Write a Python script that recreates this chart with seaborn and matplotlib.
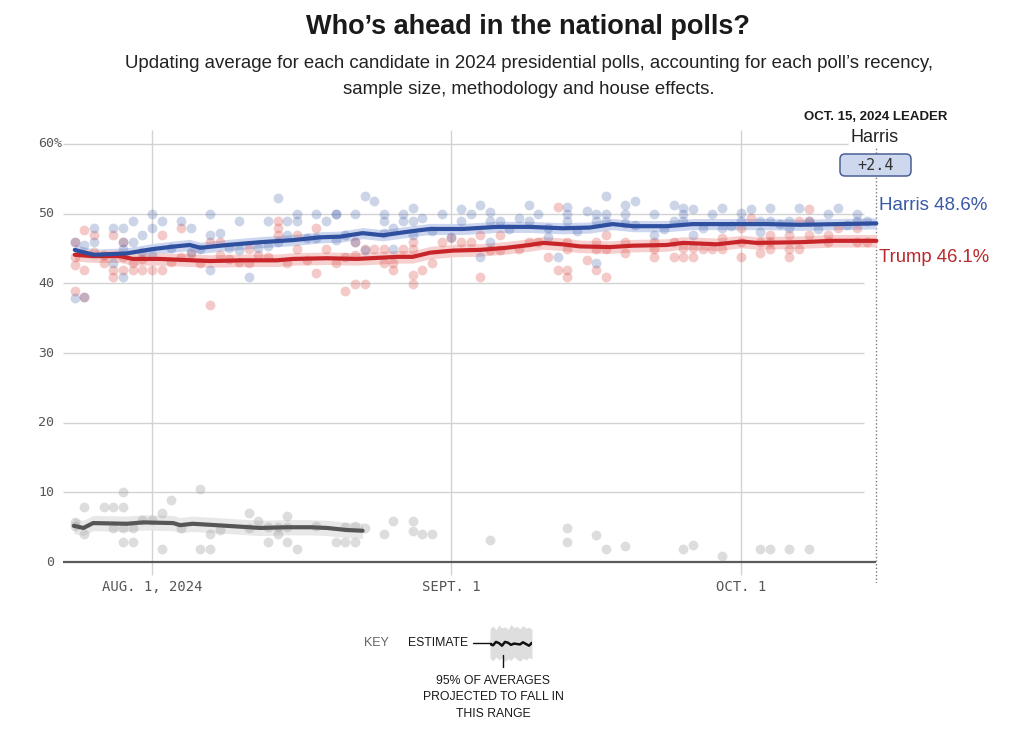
import numpy as np
import pandas as pd
import matplotlib
matplotlib.use("Agg")
import matplotlib.pyplot as plt
import seaborn as sns
from matplotlib import font_manager
from matplotlib.patches import FancyBboxPatch
from matplotlib.lines import Line2D
import matplotlib.transforms as mtransforms

# ---------------- DATA (days relative to Aug. 1, 2024) ----------------
HARRIS_AVG_DAY = [-8, -7.5, -6, -4.3, -2.6, 0, 2.4, 3.9, 5, 7.8, 11.2, 14.6, 17.4, 19.5, 21.8,
                  23.9, 27, 28.8, 32.2, 35.7, 39.1, 42.5, 45.3, 47.7, 49.8, 53.3, 56, 60.1, 63.7, 67.1, 75]
HARRIS_AVG = [44.8, 44.6, 44.1, 44.2, 44.3, 44.9, 45.3, 45.5, 45.1, 45.5, 45.9, 46.2, 46.6, 46.7, 47.2,
              46.9, 47.5, 47.8, 47.8, 48.1, 48.1, 47.9, 48.0, 48.5, 48.2, 48.2, 48.5, 48.5, 48.5, 48.4, 48.6]

TRUMP_AVG_DAY = [-8, -6.1, -3.3, -2, 0.8, 4.2, 6, 9.4, 12.9, 14.6, 18.1, 21.2, 25.4, 27, 28.8, 31.2,
                 34, 36.7, 39.1, 40.5, 42.5, 44.3, 47.4, 49.8, 53.3, 55, 58.5, 61.1, 62.6, 67.1, 70.5, 75]
TRUMP_AVG = [44.1, 43.9, 43.9, 43.5, 43.5, 43.3, 43.2, 43.3, 43.3, 43.5, 43.6, 43.5, 43.8, 43.8, 44.4, 44.7,
             44.8, 45.1, 45.5, 45.8, 45.6, 45.3, 45.2, 45.4, 45.5, 45.8, 45.6, 46.0, 45.8, 45.9, 46.1, 46.1]

OTHER_AVG_DAY = [-8.1, -7.1, -6.1, -2.6, -0.9, 2.2, 2.9, 4.2, 7.8, 11.2, 14, 16.4, 18.1, 20.2, 21.8]
OTHER_AVG = [5.2, 4.9, 5.6, 5.5, 5.7, 5.6, 5.3, 5.5, 5.2, 4.9, 5.0, 5.0, 4.9, 4.6, 4.5]

HARRIS_BAND = 0.8   # half width of the 95% range
TRUMP_BAND = 0.9
OTHER_BAND = 1.1

HARRIS_POLL_DAY = [-8, -8, -7, -6, -4, -3, -2, -1, 0, 0, 1, 3, 4, 6, 6, 7, 9, 12, 13, 14, 15, 15, 17, 18, 19,
                   -4, -3, 6, 10, 14, 11, -2, -7, -6, -3, -3, -1, 0, 2, 4, 5, 8, 9, 12, 13, 16, 17, 19,
                   19, 20, 21, 21, 22, 22, 23, 24, 24, 25, 25, 26, 26, 27, 27, 28, 30, 31, 32, 32, 33, 34,
                   35, 35, 36, 35, 34, 38, 39, 39, 40, 41, 43, 43, 43, 45, 46, 46, 47, 47, 42, 46, 29, 37,
                   44, 41, 24, 27,
                   47, 49, 49, 50, 52, 54, 54, 55, 55, 55, 56, 56, 58, 59, 59, 61, 61, 62, 63, 63, 64, 64,
                   66, 66, 67, 68, 70, 71, 73, 73, 74, 49, 52, 50, 53, 57, 60, 65, 69, 72]
HARRIS_POLL = [46.0, 37.9, 38.0, 47.9, 47.9, 47.9, 48.9, 46.9, 50.0, 47.9, 48.9, 48.9, 47.9, 50.0, 46.9, 47.2,
               48.9, 48.9, 52.3, 48.9, 50.0, 48.9, 50.0, 48.9, 50.0,
               42.9, 40.9, 41.9, 40.9, 46.9, 45.1, 45.9, 45.5, 45.9, 45.9, 44.9, 44.5, 44.0, 45.0, 44.5,
               44.9, 45.0, 44.8, 45.3, 46.0, 46.5, 46.5, 46.2,
               50.0, 46.9, 50.0, 45.9, 52.5, 44.8, 51.8, 50.0, 48.9, 47.9, 44.9, 50.0, 48.9, 50.8, 48.9,
               49.4, 50.0, 46.6, 50.7, 48.9, 50.0, 51.2, 50.2, 48.9, 48.9, 45.9, 43.8, 49.4, 51.2, 48.9,
               50.0, 46.6, 51.0, 50.0, 48.9, 50.4, 50.0, 48.9, 52.5, 48.9, 43.8, 42.9, 47.5, 47.8, 47.5,
               48.0, 47.2, 47.0,
               50.0, 51.2, 50.0, 51.8, 50.0, 51.2, 48.9, 50.8, 50.0, 48.9, 50.7, 47.0, 50.0, 50.8, 47.9,
               50.1, 48.9, 50.7, 48.9, 47.4, 50.8, 48.9, 48.9, 47.9, 50.8, 48.9, 50.0, 50.8, 50.0, 48.9,
               48.9, 48.7, 46.9, 48.3, 47.8, 48.0, 48.2, 48.5, 47.8, 48.3]

TRUMP_POLL_DAY = [-8, -8, -8, -7, -7, -7, -6, -5, -4, -4, -4, -3, -3, -3, -2, -2, -1, 0, 1, 1, 3, 3, 5, 6,
                  6, 7, 7, 10, 10, 12, 13, 13, 13, 14, 15, 15, 17, 17, 18, 19, -6, -5, -1, 2, 4, 8, 9, 11,
                  16, -8,
                  20, 20, 21, 21, 21, 22, 22, 23, 24, 24, 25, 25, 26, 27, 27, 27, 27, 28, 29, 30, 31, 32,
                  33, 34, 34, 35, 36, 36, 38, 39, 40, 41, 42, 42, 43, 43, 43, 43, 45, 46, 46, 46, 47, 47,
                  47, 49, 49, 52, 52, 52, 54, 54, 55, 55, 56, 56, 57, 58, 59, 59, 61, 61, 61, 62, 63, 63,
                  64, 64, 64, 66, 66, 66, 67, 67, 68, 68, 68, 70, 70, 71, 73, 73, 74]
TRUMP_POLL = [43.8, 42.6, 38.9, 47.6, 41.9, 38.0, 46.9, 42.9, 46.9, 41.9, 40.9, 45.9, 43.8, 41.9, 42.9, 41.9,
              41.9, 41.9, 46.9, 41.9, 47.9, 43.8, 42.9, 45.9, 36.9, 45.9, 44.1, 44.9, 42.9, 43.8, 48.9, 47.9,
              46.9, 42.9, 46.9, 44.9, 47.9, 41.5, 44.9, 42.9, 44.5, 44.0, 43.5, 43.0, 44.2, 43.5, 43.0, 44.0,
              43.3, 46.0,
              43.8, 38.9, 45.9, 44.1, 39.9, 39.9, 44.9, 44.9, 44.9, 42.9, 42.9, 41.9, 44.9, 45.9, 44.9, 41.2,
              39.9, 41.9, 42.9, 45.9, 46.5, 45.9, 45.9, 46.9, 40.9, 44.8, 46.9, 44.8, 44.9, 45.9, 45.9, 43.8,
              51.0, 41.9, 45.9, 44.9, 41.9, 40.9, 43.3, 45.9, 44.9, 41.9, 46.9, 40.9, 44.9, 45.9, 44.4, 45.9,
              44.9, 43.8, 45.9, 43.8, 45.0, 43.8, 45.0, 43.8, 44.9, 44.9, 46.5, 44.9, 47.9, 45.9, 43.8, 49.4,
              45.9, 44.4, 46.9, 45.9, 44.9, 46.9, 44.9, 43.8, 48.9, 44.9, 50.7, 48.9, 46.9, 46.9, 45.9, 47.9,
              47.9, 45.9, 45.9]

OTHER_POLL_DAY = [-8, -8, -7, -7, -5, -4, -4, -3, -3, -3, -3, -2, -2, -1, 0, 1, 1, 2, 3, 5, 5, 6, 6, 7,
                  10, 10, 11, 12, 12, 13, 13, 14, 14, 14, 15, 17, 19, 20, 20, 21, 21, 22, 24, 25, 27, 27,
                  28, 29, 35, 43, 43, 46, 47, 49, 55, 56, 59, 63, 64, 66, 68]
OTHER_POLL = [5.8, 5.2, 7.9, 4.1, 7.9, 7.9, 4.9, 10.1, 7.9, 4.9, 2.9, 4.9, 2.9, 6.0, 6.0, 7.0, 1.9, 8.9,
              4.9, 10.5, 1.9, 4.0, 1.9, 4.6, 7.0, 4.9, 5.9, 5.0, 2.9, 5.0, 4.0, 6.6, 5.0, 2.9, 1.9, 5.2,
              2.9, 5.0, 2.9, 5.2, 2.9, 4.9, 4.0, 5.9, 5.9, 4.5, 4.0, 4.0, 3.1, 4.9, 2.9, 3.9, 1.9, 2.3,
              1.9, 2.4, 0.9, 1.9, 1.9, 1.9, 1.9]

X_TICK_DAYS = [0, 31, 61]
X_TICK_LABELS = ["AUG. 1, 2024", "SEPT. 1", "OCT. 1"]
Y_TICKS = [0, 10, 20, 30, 40, 50, 60]
Y_TICK_LABELS = ["0", "10", "20", "30", "40", "50", "60"]
LEADER_DAY = 75
LEADER_DATE = "OCT. 15, 2024 LEADER"
LEADER = "Harris"
LEAD_MARGIN = "+2.4"
HARRIS_LABEL = "Harris 48.6%"
TRUMP_LABEL = "Trump 46.1%"

KEY_LINE = [5.0, 4.7, 5.5, 5.2, 4.6, 5.5, 5.3, 4.8, 5.1, 5.0, 4.9, 5.4, 5.0, 4.6, 5.3]
KEY_LO = [1.6, 1.0, 1.9, 1.2, 1.7, 0.8, 1.5, 1.1, 2.0, 1.3, 0.9, 1.6, 1.2, 1.8, 1.4]
KEY_HI = [8.7, 9.3, 8.4, 9.5, 8.8, 9.1, 8.5, 9.6, 8.9, 9.2, 8.6, 9.4, 8.8, 9.0, 8.5]

# ---------------- STYLE ----------------
sns.set_style("white")
names = {f.name for f in font_manager.fontManager.ttflist}
SANS = "Liberation Sans" if "Liberation Sans" in names else "DejaVu Sans"
NARROW = "Liberation Sans Narrow" if "Liberation Sans Narrow" in names else SANS
MONO = "DejaVu Sans Mono"
plt.rcParams["font.family"] = [SANS, "DejaVu Sans"]

W, H = 1012, 743
fig = plt.figure(figsize=(W / 100, H / 100), dpi=100)

def fx(px):
    return px / W

def fy(py):
    return 1 - py / H

ax = fig.add_axes([fx(63), fy(583), (886 - 63) / W, (583 - 130) / H])
XMIN, XMAX = -9.22, 76.0
ax.set_xlim(XMIN, XMAX)
ax.set_ylim(-3, 62)
for s in ax.spines.values():
    s.set_visible(False)
ax.set_xticks([])
ax.set_yticks([])

BLUE = "#2f4f9f"
RED = "#c8252a"
GRAY_LINE = "#565656"

# grid
for yv in Y_TICKS[1:]:
    xend = 72.1 if yv == 60 else 73.7
    ax.hlines(yv, XMIN, xend, color="#d2d2d2", lw=1, zorder=0.5)
ax.hlines(0, XMIN, LEADER_DAY, color="#5a5a5a", lw=1.6, zorder=0.6)
ax.vlines(X_TICK_DAYS, -1.9, 62, color="#d2d2d2", lw=1, zorder=0.5)
ax.vlines(LEADER_DAY, -3, 59.4, color="#7a7a7a", lw=1, linestyles=(0, (1, 1.6)), zorder=0.7)

# bands
ha = np.array(HARRIS_AVG); ta = np.array(TRUMP_AVG); oa = np.array(OTHER_AVG)
ax.fill_between(HARRIS_AVG_DAY, ha - HARRIS_BAND, ha + HARRIS_BAND, color="#c8d2ee", alpha=0.9, lw=0, zorder=1)
ax.fill_between(TRUMP_AVG_DAY, ta - TRUMP_BAND, ta + TRUMP_BAND, color="#f6cbc9", alpha=0.9, lw=0, zorder=1)
ax.fill_between(OTHER_AVG_DAY, oa - OTHER_BAND, oa + OTHER_BAND, color="#e6e6e6", alpha=0.9, lw=0, zorder=1)

# polls
sns.scatterplot(x=OTHER_POLL_DAY, y=OTHER_POLL, ax=ax, color="#9a9a9a", alpha=0.33, s=50,
                linewidth=0, zorder=2, legend=False)
sns.scatterplot(x=TRUMP_POLL_DAY, y=TRUMP_POLL, ax=ax, color="#d9433c", alpha=0.28, s=50,
                linewidth=0, zorder=2, legend=False)
sns.scatterplot(x=HARRIS_POLL_DAY, y=HARRIS_POLL, ax=ax, color="#3a5aa8", alpha=0.26, s=50,
                linewidth=0, zorder=2, legend=False)

# averages
sns.lineplot(x=OTHER_AVG_DAY, y=OTHER_AVG, ax=ax, color=GRAY_LINE, lw=3, zorder=3)
sns.lineplot(x=TRUMP_AVG_DAY, y=TRUMP_AVG, ax=ax, color=RED, lw=3, zorder=3)
sns.lineplot(x=HARRIS_AVG_DAY, y=HARRIS_AVG, ax=ax, color=BLUE, lw=3, zorder=3)
ax.set_xlabel("")
ax.set_ylabel("")
ax.set_xlim(XMIN, XMAX)
ax.set_ylim(-3, 62)

# y labels
ytr = mtransforms.blended_transform_factory(fig.transFigure, ax.transData)
for v, lab in zip(Y_TICKS, Y_TICK_LABELS):
    ax.text(fx(54), v, lab, transform=ytr, ha="right", va="center", fontsize=9.5,
            family=MONO, color="#555555")
ax.text(fx(54), 60, "%", transform=ytr, ha="left", va="center", fontsize=9.5,
        family=MONO, color="#555555")

# x labels
xtr = mtransforms.blended_transform_factory(ax.transData, fig.transFigure)
for d, lab in zip(X_TICK_DAYS, X_TICK_LABELS):
    ax.text(d, fy(587), lab, transform=xtr, ha="center", va="center", fontsize=10,
            family=MONO, color="#555555")

# titles
fig.text(fx(528), fy(27), "Who’s ahead in the national polls?", ha="center", va="center",
         fontsize=19.5, fontweight="bold", family=[NARROW, "DejaVu Sans"], color="#1a1a1a")
fig.text(fx(529), fy(64), "Updating average for each candidate in 2024 presidential polls, accounting for each poll’s recency,",
         ha="center", va="center", fontsize=13.4, color="#222222")
fig.text(fx(529), fy(89), "sample size, methodology and house effects.",
         ha="center", va="center", fontsize=13.4, color="#222222")

# leader annotation
fig.text(fx(876), fy(117), LEADER_DATE, ha="center", va="center", fontsize=9.5,
         fontweight="bold", color="#1a1a1a")
fig.text(fx(875), fy(138), LEADER, ha="center", va="center", fontsize=13, color="#222222")
box = FancyBboxPatch((8.40, (H - 176) / 100), 0.71, 0.22,
                     boxstyle="round,pad=0,rounding_size=0.05",
                     transform=fig.dpi_scale_trans, facecolor="#cdd7ee", edgecolor="#4a5f95",
                     lw=1.1, zorder=5)
fig.patches.append(box)
fig.text(fx(875.5), fy(165), LEAD_MARGIN, ha="center", va="center", fontsize=11,
         family=MONO, color="#333333", zorder=6)

fig.text(fx(879), fy(206), HARRIS_LABEL, ha="left", va="center", fontsize=13.5, color="#3a59a6")
fig.text(fx(879), fy(257), TRUMP_LABEL, ha="left", va="center", fontsize=13.3, color="#b8282a")

# key
fig.text(fx(364), fy(643), "KEY", ha="left", va="center", fontsize=9, color="#666666")
fig.text(fx(408), fy(643), "ESTIMATE", ha="left", va="center", fontsize=8.8, color="#1a1a1a")
fig.add_artist(Line2D([fx(473), fx(491)], [fy(643), fy(643)], color="#111111", lw=1))
fig.add_artist(Line2D([fx(503), fx(503)], [fy(655), fy(667)], color="#111111", lw=1))
kax = fig.add_axes([fx(490), fy(665), 42 / W, 42 / H])
kx = np.arange(len(KEY_LINE))
kax.fill_between(kx, KEY_LO, KEY_HI, color="#dedede", lw=0)
kax.plot(kx, KEY_LINE, color="#111111", lw=1.8)
kax.set_xlim(0, len(KEY_LINE) - 1)
kax.set_ylim(0, 10)
kax.axis("off")
for i, line in enumerate(["95% OF AVERAGES", "PROJECTED TO FALL IN", "THIS RANGE"]):
    fig.text(fx(493), fy(681 + 16.5 * i), line, ha="center", va="center", fontsize=8.8, color="#1a1a1a")

fig.savefig("out.png", dpi=100)
